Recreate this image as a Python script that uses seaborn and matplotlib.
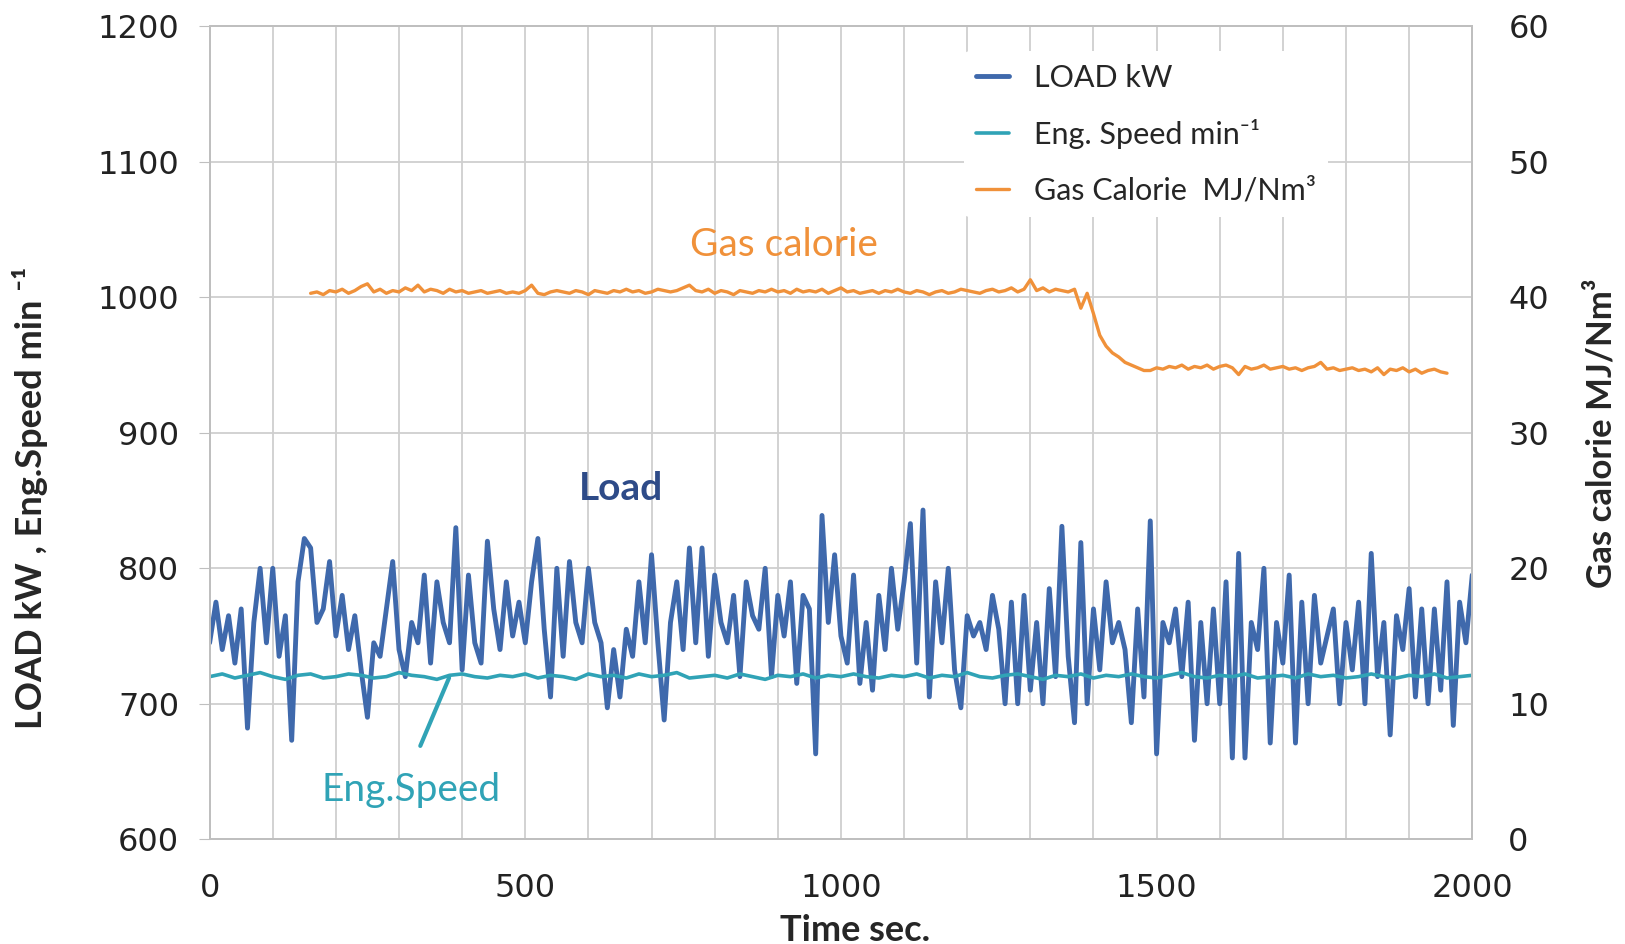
import numpy as np
import matplotlib
matplotlib.use("Agg")
import matplotlib.pyplot as plt
import seaborn as sns
from matplotlib.ticker import MultipleLocator

# ---- data ----
load_time = np.arange(0, 2001, 10)
load_kw = [
    745, 775, 740, 765, 730, 770, 682, 760, 800, 745, 800, 735, 765, 673, 790, 822, 815, 760, 770, 805, 750,
    780, 740, 765, 725, 690, 745, 735, 770, 805, 740, 720, 760, 745, 795, 730, 790, 760, 745, 830, 725,
    795, 745, 730, 820, 770, 740, 790, 750, 775, 745, 790, 822, 755, 705, 800, 735, 805, 760, 745, 800,
    760, 745, 697, 740, 705, 755, 735, 790, 745, 810, 745, 688, 760, 790, 740, 815, 745, 815, 735, 795,
    760, 745, 780, 720, 790, 765, 755, 800, 720, 780, 750, 790, 715, 780, 770, 663, 839, 760, 810, 750,
    730, 795, 715, 760, 710, 780, 740, 800, 755, 790, 833, 730, 843, 705, 790, 745, 800, 725, 697, 765,
    750, 760, 740, 780, 755, 700, 775, 700, 780, 710, 760, 700, 785, 720, 831, 735, 686, 819, 700, 770,
    725, 790, 745, 760, 740, 686, 770, 705, 835, 663, 760, 745, 770, 720, 775, 673, 760, 700, 770, 700,
    790, 660, 811, 660, 760, 740, 800, 671, 760, 730, 795, 671, 775, 700, 780, 730, 750, 770, 700, 760,
    725, 775, 700, 811, 720, 760, 677, 765, 740, 785, 705, 770, 700, 770, 710, 790, 684, 775, 745, 795,
]

speed_time = np.arange(0, 2001, 20)
eng_speed = [
    720, 722, 719, 721, 723, 720, 718, 721, 722, 719, 720, 722, 721, 719, 720, 723, 721, 720, 718, 721,
    722, 720, 719, 721, 720, 722, 719, 721, 720, 718, 722, 720, 721, 719, 722, 720, 721, 723, 719, 720,
    721, 719, 722, 720, 718, 721, 720, 722, 719, 721, 720, 722, 720, 719, 721, 720, 722, 719, 721, 720,
    723, 720, 719, 721, 722, 720, 718, 721, 720, 722, 719, 721, 720, 722, 720, 719, 721, 723, 720, 719,
    721, 720, 722, 719, 720, 721, 719, 722, 720, 721, 719, 720, 722, 720, 719, 721, 720, 722, 719, 720,
    721,
]

gas_time = np.arange(160, 1961, 10)
gas_calorie = [
    40.3, 40.4, 40.2, 40.5, 40.4, 40.6, 40.3, 40.5, 40.8, 41.0,
    40.4, 40.6, 40.3, 40.5, 40.4, 40.7, 40.5, 40.9, 40.4, 40.6,
    40.5, 40.3, 40.6, 40.4, 40.5, 40.3, 40.4, 40.5, 40.3, 40.4,
    40.5, 40.3, 40.4, 40.3, 40.5, 40.9, 40.3, 40.2, 40.4, 40.5,
    40.4, 40.3, 40.5, 40.4, 40.2, 40.5, 40.4, 40.3, 40.5, 40.4,
    40.6, 40.4, 40.5, 40.3, 40.4, 40.6, 40.5, 40.4, 40.5, 40.7,
    40.9, 40.5, 40.4, 40.6, 40.3, 40.5, 40.4, 40.2, 40.5, 40.4,
    40.3, 40.5, 40.4, 40.6, 40.4, 40.5, 40.3, 40.6, 40.4, 40.5,
    40.4, 40.6, 40.3, 40.5, 40.7, 40.4, 40.5, 40.3, 40.4, 40.5,
    40.3, 40.5, 40.4, 40.6, 40.4, 40.3, 40.5, 40.4, 40.2, 40.4,
    40.5, 40.3, 40.4, 40.6, 40.5, 40.4, 40.3, 40.5, 40.6, 40.4,
    40.5, 40.7, 40.4, 40.6, 41.3, 40.5, 40.7, 40.4, 40.6, 40.5,
    40.4, 40.6, 39.2,
    40.3, 38.8, 37.2, 36.4, 35.9, 35.6, 35.2, 35.0, 34.8, 34.6,
    34.6, 34.8, 34.7, 34.9, 34.8, 35.0, 34.7, 34.9, 34.8, 35.0,
    34.7, 34.9, 35.0, 34.8, 34.3, 34.9, 34.7, 34.8, 35.0, 34.7,
    34.8, 34.9, 34.7, 34.8, 34.6, 34.8, 34.9, 35.2, 34.7, 34.8,
    34.6, 34.7, 34.8, 34.6, 34.7, 34.5, 34.8, 34.3, 34.7, 34.6,
    34.8, 34.5, 34.7, 34.4, 34.6, 34.7, 34.5, 34.4,
]

C_LOAD = "#3F69AC"
C_SPEED = "#30A3B6"
C_GAS = "#F0913A"
GRID = "#CFCFCF"

sns.set_style("white")
plt.rcParams["font.family"] = ["DejaVu Sans"]
LABEL_FONT = ["Lato", "DejaVu Sans"]

fig = plt.figure(figsize=(16.25, 9.44), dpi=100)
ax = fig.add_axes([0.129, 0.111, 0.777, 0.861])
ax2 = ax.twinx()

sns.lineplot(x=load_time, y=load_kw, ax=ax, color=C_LOAD, linewidth=3.5, label="LOAD kW", legend=False)
sns.lineplot(x=speed_time, y=eng_speed, ax=ax, color=C_SPEED, linewidth=2.6, label="Eng. Speed min⁻¹", legend=False)
sns.lineplot(x=gas_time, y=gas_calorie, ax=ax2, color=C_GAS, linewidth=2.4, label="Gas Calorie  MJ/Nm³", legend=False)

ax.set_xlim(0, 2000)
ax.set_ylim(600, 1200)
ax2.set_ylim(0, 60)

ax.xaxis.set_major_locator(MultipleLocator(500))
ax.xaxis.set_minor_locator(MultipleLocator(100))
ax.yaxis.set_major_locator(MultipleLocator(100))
ax2.yaxis.set_major_locator(MultipleLocator(10))
ax.grid(True, which="both", color=GRID, linewidth=1.3)
ax2.grid(False)

for a in (ax, ax2):
    for s in a.spines.values():
        s.set_color("#BFBFBF")
        s.set_linewidth(1.3)
ax.tick_params(axis="y", which="both", direction="out", length=8, color="#BFBFBF",
               labelsize=23, labelcolor="#222222", pad=14, left=True)
ax.tick_params(axis="x", which="both", length=0, labelsize=23, labelcolor="#222222", pad=24)
ax2.tick_params(axis="y", length=0, labelsize=23, labelcolor="#222222", pad=26)

ax.set_xlabel("Time sec.", fontsize=26, fontweight="bold", family=LABEL_FONT)
ax.xaxis.set_label_coords(0.511, -0.092)
ax.set_ylabel("LOAD kW , Eng.Speed min ⁻¹", fontsize=26, fontweight="bold", family=LABEL_FONT)
ax.yaxis.set_label_coords(-0.128, 0.42)
ax2.set_ylabel("Gas calorie MJ/Nm³", fontsize=25, fontweight="bold", family=LABEL_FONT)
ax2.yaxis.set_label_coords(1.09, 0.5)

# in-plot labels
ax.text(910, 1039, "Gas calorie", color=C_GAS, fontsize=28, family=LABEL_FONT,
        ha="center", va="center")
ax.text(651, 859, "Load", color="#2E4B88", fontsize=28, fontweight="bold", family=LABEL_FONT,
        ha="center", va="center")
ax.annotate("", xy=(381, 721), xytext=(332, 667),
            arrowprops=dict(arrowstyle="-", color=C_SPEED, lw=3))
ax.text(319, 636, "Eng.Speed", color=C_SPEED, fontsize=28, family=LABEL_FONT,
        ha="center", va="center")

h1, l1 = ax.get_legend_handles_labels()
h2, l2 = ax2.get_legend_handles_labels()
leg = ax2.legend(h1 + h2, l1 + l2, loc="upper left", bbox_to_anchor=(0.585, 0.988),
                 frameon=True, facecolor="white", edgecolor="none", framealpha=1,
                 handlelength=1.1, handletextpad=0.8, labelspacing=0.9,
                 prop={"family": LABEL_FONT, "size": 22})
leg.set_zorder(10)

fig.savefig("out.png", dpi=100)
